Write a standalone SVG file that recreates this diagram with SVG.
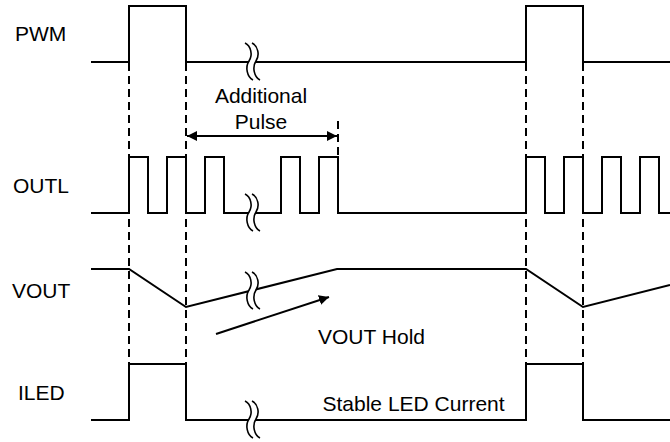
<svg xmlns="http://www.w3.org/2000/svg" width="670" height="442" viewBox="0 0 670 442">
<style>
.sig{fill:none;stroke:#000;stroke-width:2;stroke-linejoin:miter}
.dash{fill:none;stroke:#000;stroke-width:2;stroke-dasharray:8 5}
.brk{fill:none;stroke:#000;stroke-width:1.6}
.mask{fill:none;stroke:#fff;stroke-width:5.5}
.lbl{font-family:"Liberation Sans",Arial,sans-serif;font-size:21px;fill:#000}
.arr{fill:none;stroke:#000;stroke-width:2}
</style>
<defs>
<marker id="ah" viewBox="0 0 10 10" refX="10" refY="5" markerWidth="10" markerHeight="11" markerUnits="userSpaceOnUse" orient="auto-start-reverse">
<path d="M0,0 L10,5 L0,10 z" fill="#000"/>
</marker>
<g id="brk">
<path class="mask" d="M3.5,0 C9.5,3 11.5,12 7.5,18 C3.5,24 5.5,34 11.5,37"/>
<path class="brk" d="M0,0 C6,3 8,12 4,18 C0,24 2,34 8,37"/>
<path class="brk" d="M7,0 C13,3 15,12 11,18 C7,24 9,34 15,37"/>
</g>
</defs>
<text class="lbl" x="15" y="40.5">PWM</text>
<text class="lbl" x="13" y="192.5">OUTL</text>
<text class="lbl" x="12" y="297.5">VOUT</text>
<text class="lbl" x="18" y="399.5">ILED</text>
<g id="pwm">
<path class="sig" d="M91,62 H129 V6 H186 V62 H526 V6 H583 V62 H670"/>
<use href="#brk" x="245" y="43"/>
</g>
<g id="outl">
<path class="sig" d="M91,213 H129 V157 H148 V213 H167 V157 H186 V213 H205 V157 H224 V213 H281 V157 H300 V213 H319 V157 H338 V213 H526 V157 H545 V213 H564 V157 H583 V213 H602 V157 H621 V213 H640 V157 H659 V213 H670"/>
<use href="#brk" x="245" y="194"/>
</g>
<g id="vout">
<path class="sig" d="M91,269 H129 L186,307 L337,269 H526 L583,307 L670,285"/>
<use href="#brk" x="245" y="272"/>
</g>
<g id="iled">
<path class="sig" d="M91,420 H129 V364 H186 V420 H526 V364 H583 V420 H670"/>
<use href="#brk" x="245" y="401"/>
</g>
<g id="connectors">
<path class="dash" d="M129,63 V364 M186,63 V364 M526,63 V364 M583,63 V364 M338,121 V157"/>
<path class="arr" d="M187,136 H337" marker-start="url(#ah)" marker-end="url(#ah)"/>
<path class="arr" d="M216,334 L329,297" marker-end="url(#ah)"/>
</g>
<g id="labels">
<text class="lbl" x="261" y="103" text-anchor="middle">Additional</text>
<text class="lbl" x="261" y="129" text-anchor="middle">Pulse</text>
<text class="lbl" x="318" y="343.5">VOUT Hold</text>
<text class="lbl" x="322.5" y="410.5">Stable LED Current</text>
</g>
</svg>
